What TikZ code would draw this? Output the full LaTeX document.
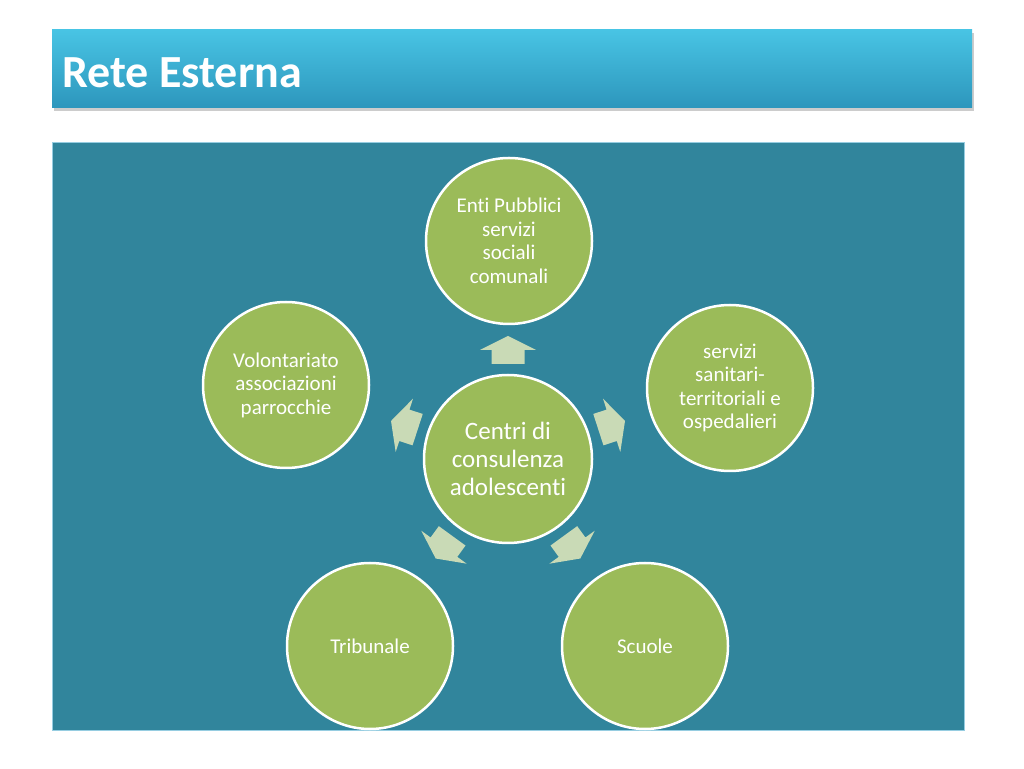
\documentclass[tikz,border=0pt]{standalone}
\usepackage{fontspec}
\setmainfont{Carlito}[Ligatures={NoCommon,NoRare,NoContextual}]
\usetikzlibrary{shadows}
\definecolor{panel}{RGB}{49,133,156}
\definecolor{titletop}{RGB}{72,196,228}
\definecolor{titlebot}{RGB}{45,150,188}
\definecolor{circfill}{RGB}{155,187,89}
\definecolor{arrfill}{RGB}{201,218,182}
\definecolor{paneledge}{RGB}{150,205,225}
\tikzset{
  bubble/.style={circle, fill=circfill, draw=white, line width=2.5pt, minimum size=166pt, inner sep=0pt,
     align=center, text=white, font=\fontsize{21}{23.5}\selectfont},
  hub/.style={bubble, minimum size=168pt, font=\fontsize{25}{28}\selectfont},
  fatarrow/.style={fill=arrfill, draw=none}
}
\begin{document}
\begin{tikzpicture}[x=1pt,y=1pt]
\useasboundingbox (0,0) rectangle (1024,768);
\fill[white] (0,0) rectangle (1024,768);
% title bar
\shade[top color=titletop, bottom color=titlebot,
  drop shadow={opacity=0.4, shadow xshift=2pt, shadow yshift=-3pt}]
  (52,660) rectangle (972,738);
\node[anchor=base west, text=white, font=\fontsize{46}{52}\selectfont\bfseries, inner sep=0pt] (title) at (62,680) {Rete Esterna};
% panel
\fill[panel, draw=paneledge, line width=0.8pt] (52,38) rectangle (964,626);
% circles
\node[hub] (c) at (508,309) {Centri di\\consulenza\\adolescenti};
\node[bubble] (t) at (509,527) {Enti Pubblici\\servizi\\sociali\\comunali};
\node[bubble] (r) at (730,380) {servizi\\sanitari-\\territoriali e\\ospedalieri};
\node[bubble] (l) at (286,383) {Volontariato\\associazioni\\parrocchie};
\node[bubble] (bl) at (370,122) {Tribunale};
\node[bubble] (br) at (645,122) {Scuole};
% arrows
\foreach \a in {90,18,162,234,306}{
  \begin{scope}[shift={(c.center)}, rotate=\a]
    \fill[fatarrow] (95,-16.5) -- (109,-16.5) -- (109,-28) -- (123,0) -- (109,28) -- (109,16.5) -- (95,16.5) -- cycle;
  \end{scope}
}
\end{tikzpicture}
\end{document}
